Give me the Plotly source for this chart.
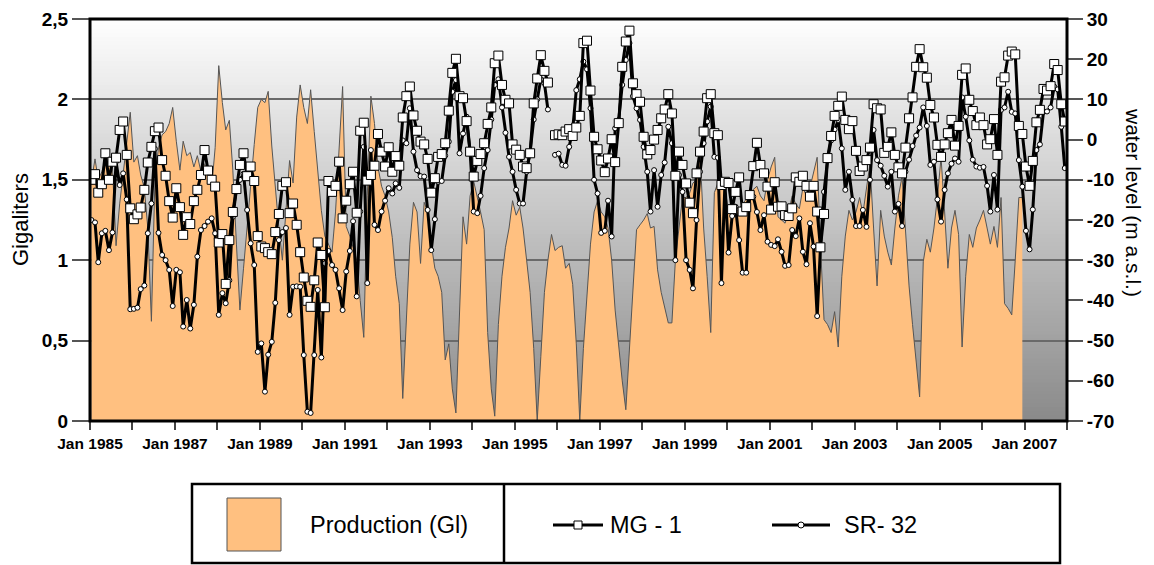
import plotly.graph_objects as go
import pandas as pd

# ---------------- DATA ----------------
start_month = "1985-01-01"

production_gl = [
    1.49, 1.63, 1.5, 1.55, 1.63, 1.6, 1.58, 1.09, 1.35, 1.53, 1.75, 1.92,
    1.61, 1.65, 1.53, 1.45, 1.2, 0.62, 1.5, 1.7, 1.78, 1.8, 1.85, 1.95,
    1.74, 1.56, 1.74, 1.65, 1.67, 1.58, 1.65, 1.55, 1.6, 1.52, 1.45, 1.7,
    2.21, 1.98, 1.81, 1.87, 1.56, 1.1, 0.69, 0.95, 1.21, 1.5, 1.72, 1.95,
    2.0, 1.98, 2.05, 1.71, 1.44, 1.2, 1.0, 1.3, 1.62, 1.48, 1.89, 2.09,
    1.95, 1.85, 2.06, 1.8, 1.55, 1.31, 1.15, 1.1, 1.05, 1.3, 1.7, 2.08,
    1.21, 1.15, 1.08, 1.0, 0.75, 0.52, 1.4, 2.02, 1.85, 1.58, 1.46, 1.4,
    1.3, 1.14, 0.9, 0.73, 0.14, 0.6, 1.1, 1.36, 1.3, 0.98, 1.36, 1.3,
    1.1, 0.95, 0.9, 0.8, 0.38, 0.48, 0.2, 0.05, 0.7, 1.27, 1.1, 1.4,
    1.49, 1.4, 1.3, 1.19, 0.55, 0.2, 0.03, 0.6, 0.9, 1.08, 1.2, 1.37,
    1.28, 1.33, 1.2, 1.0, 0.8, 0.45, 0.0, 0.4, 0.8, 1.0, 1.16, 1.06,
    1.08, 1.09, 0.95, 0.98, 0.85, 0.48, 0.0, 0.45, 0.8, 1.1, 1.3, 1.37,
    1.3, 1.27, 1.2, 1.0, 0.69, 0.45, 0.25, 0.07, 0.45, 0.85, 1.19, 1.22,
    1.25, 1.29, 1.2, 1.21, 0.94, 0.8, 0.7, 0.61, 0.61, 1.0, 1.2, 1.39,
    1.39, 1.42, 1.48, 1.5, 1.67, 1.2, 0.9, 0.55, 1.42, 1.48, 1.5, 1.45,
    1.3, 1.32, 1.3, 1.32, 1.35, 1.38, 1.42, 1.44, 1.46, 1.4, 1.37, 1.5,
    1.58, 1.64, 1.27, 1.25, 1.23, 1.3, 1.4, 1.35, 1.32, 1.45, 1.4, 1.45,
    1.55, 1.64, 1.1, 0.63, 0.6, 0.55, 0.68, 0.46, 0.9, 1.15, 1.31, 1.25,
    1.3, 1.39, 1.29, 1.45, 1.6, 1.2, 0.84, 1.31, 1.15, 1.05, 0.97, 1.2,
    1.4, 1.52, 1.2, 0.84, 0.6, 0.35, 0.15, 0.99, 1.13, 1.05, 1.2, 1.39,
    1.64, 1.3, 0.95, 1.2, 1.31, 1.16, 0.46, 0.9, 1.16, 1.08, 1.2, 1.25,
    1.31, 1.2, 1.1, 1.21, 1.08, 1.39, 0.73, 0.7, 0.66, 1.0, 1.39, 1.39,
]

mg1_level = [
    -10, -8.6, -13.2, -11.1, -3.4, -10.0, -5.5, -4.5, 2.4, 4.5, -3.8, -17.1,
    -19.8, -18.6, -16.9, -12.5, -5.7, -1.8, 2.1, 3.0, -5.1, -9.0, -15.3, -19.4,
    -12.1, -16.8, -23.7, -19.3, -21.0, -15.3, -12.5, -8.8, -2.6, -7.7, -10, -11.7,
    -25.6, -23.5, -35.9, -25, -18, -12.3, -6.3, -3.4, -9.1, -6.7, -10.3, -24,
    -26.6, -27, -28, -28.5, -23, -18.5, -11.5, -10.6, -18.3, -15.9, -21.2, -28,
    -34.3, -40.1, -41.6, -35, -25.6, -28.7, -41.7, -10.3, -13, -11.5, -5.5, -19.6,
    -15.2, -11.1, -8, -18.2, 2.2, 4.2, -10.2, -8.8, -6.5, 1.4, -3, -6.7,
    -1.9, -8, -4.1, -6.5, 5.5, 10.8, 13.2, 6, 2.2, -0.5, -1.2, -4.8,
    -13.2, -9.6, -4.3, -3.6, -0.9, 7.2, 16.6, 20.1, 10.8, 10.3, 4.6, -3,
    -9.2, -5.3, -3.6, -0.9, 3.9, 8.0, 19.0, 20.9, 13.6, 9.9, 9.0, -1.2,
    -2.5, -3.8, -6.7, -7.1, -3.4, 9.0, 15.2, 21.0, 17.1, 14.2, None, 1.1,
    1.3, 1.1, 2, 2.6, 0.9, 3, 5.9, 24, 24.6, 12.2, 0.7, -2.4,
    -5.2, -8.1, -4.7, 0.1, -5.6, 4.1, 18.1, 24.4, 27.1, 14, 11.3, 9.4,
    0.7, -3.7, -2.6, 0, 2.4, 5.3, 7.5, 11.3, 6.5, -9, -3, -6.3,
    -10.9, -15.7, -18.3, -8.4, -3, 2, 10.3, 11.3, 1.6, 1.1, -11.3, -10.5,
    -10.8, -17.3, -13, -9.4, -17.9, -16.8, -13.8, -6.6, -0.8, -6.3, -8.4, -11.7,
    -17.4, -10.6, -16.7, -16.6, -18.8, -19, -17.1, -9.4, -10.5, -9, -11.5, -14.2,
    -11.5, -17.9, -26.8, -18.5, -4.6, 0.9, 5.9, 8.4, 10.7, 4.9, 2.6, 4.6,
    -2.8, -7.8, -6.7, -5.1, -2, 8.8, 7.8, 7.5, -3.3, -1.8, 1.8, -3.8,
    -6.9, -8.4, -2, 5.3, 10.5, 18.1, 22.5, 18.0, 15.4, 8.6, 5.5, -1.3,
    -4.3, -1.2, 1.6, 4.9, -1.5, 3.4, 16.1, 17.7, 9.9, 7.1, 3.6, 5.5,
    3.6, -1.2, 0.1, 5.1, -3.8, 14.4, 15.5, 20.9, 21.9, 21.2, 3.4, 1.4,
    -6.7, -11.5, -5.3, 4.3, 7.4, 12.6, 12.2, 13.3, 18.8, 17.3, 8.8, 4.5,
]

sr32_level = [
    -20, -20.6, -30.5, -23.3, -22.7, -27.5, -23.1, -5.5, -11.3, -8.4, -14.9, -42.2,
    -42.1, -41.8, -37.2, -36.3, -23.3, -15.9, -2.3, -23.2, -28.7, -30, -32.4, -41.4,
    -32.4, -33, -46.5, -39.9, -47, -41.1, -29.1, -22.5, -21.5, -20.4, -19.6, -23.3,
    -43.6, -38.2, -40.7, -35, -19.2, -12.5, -10, -8.5, -17.5, -25.8, -31.2, -52.8,
    -50.7, -62.7, -53.5, -50.3, -40.6, -25, -23, -22, -43.6, -36.6, -36.5, -36.6,
    -53.6, -67.7, -68, -53.6, -37.4, -54.2, -30.8, -27.7, -31.2, -32.4, -37, -42.4,
    -32.8, -27.7, -20.3, -39, -17.9, -1.8, -35.7, -2.6, -21.2, -22.5, -17.9, -15.2,
    -12.1, -13.4, -10.9, -12, -0.2, -0.9, 7.8, -3, -7.6, -9.1, -9.2, -17.5,
    -27.5, -19.8, -10.5, -10.3, -4, -0.5, 11.9, 14.8, -3.4, 1.5, 5.7, -3,
    -17.9, -18.3, -14, -7.1, -2.6, 5, 13.6, 15, 8, 1.7, -4.3, -8,
    -12.5, -15.9, -15.9, -8, -3, 5, 10, 15, 14, 7.5, None, -3.8,
    -3.5, -6.3, -6.5, -1.8, 2.5, 12.3, 15, 19.4, 17.5, 7.8, -10, -13.4,
    -23.2, -22.7, -15.2, -24.1, 2.8, 4.9, 13.6, 19.8, 24, 10.8, 7.8, 4.9,
    -1.8, -8, -17.9, -7.6, -16.7, -8.8, -5.7, 3.2, -0.9, -30, -8.8, -13,
    -30, -32.4, -37, -20, -8, -0.9, 4.5, 8.2, -4.3, -4.5, -35.7, -10.9,
    -28.1, -19, -16.7, -25, -33.1, -33.1, -13.8, -14.2, -18, -22.5, -18.8, -25.4,
    -26.2, -26.5, -24.8, -27.9, -31.4, -31.2, -22.5, -24, -19.6, -27.9, -31, -20.8,
    -26.6, -43.9, -27, -13, -5.1, -0.2, 2.5, 4.9, -2.2, -12.5, -8, -15,
    -21.5, -21.5, -17.5, -21.7, -10, 2.4, -5.1, -6.5, -9, -11.7, -8, -17.9,
    -16, -21.5, -8, -5, -1.6, 1, 3, 8, 3.4, -6.3, -5.5, -14.9,
    -20.4, -12.5, -8.4, -6, -4.7, -5.5, 10.5, 5.7, -0.2, -5, -6.7, -7,
    -6.8, -11.5, -17.9, -8.8, -17.4, 7.4, 8, 11.9, 6.9, 6.5, -5.1, -11.7,
    -22.7, -27.3, -17.4, -2.6, -1.2, 6.9, 7, 8, 13.2, 12.5, 3.2, -7.1,
]

x_tick_years = list(range(1985, 2009))
x_tick_labels = ["Jan %d" % y if (y - 1985) % 2 == 0 and y < 2008 else "" for y in x_tick_years]
left_ticks = [0, 0.5, 1, 1.5, 2, 2.5]
left_tick_labels = ["0", "0,5", "1", "1,5", "2", "2,5"]
right_ticks = [-70, -60, -50, -40, -30, -20, -10, 0, 10, 20, 30]
right_tick_labels = ["-70", "-60", "-50", "-40", "-30", "-20", "-10", "0", "10", "20", "30"]

# ---------------- FIGURE ----------------
months = pd.date_range(start_month, periods=len(mg1_level), freq="MS") + pd.Timedelta(days=12)
prod_dates = months[:len(production_gl)]

FONT = "Liberation Sans, Arial, sans-serif"
ORANGE = "#FFC080"

fig = go.Figure()

fig.add_trace(go.Scatter(
    x=prod_dates, y=production_gl, mode="lines", fill="tozeroy",
    fillcolor=ORANGE, line=dict(color="#555555", width=1),
    name="Production (Gl)", yaxis="y", hoverinfo="skip",
))
fig.add_trace(go.Scatter(
    x=months, y=sr32_level, mode="lines+markers", name="SR- 32", yaxis="y2",
    line=dict(color="black", width=3),
    marker=dict(symbol="circle", size=5, color="white", line=dict(color="black", width=1)),
))
fig.add_trace(go.Scatter(
    x=months, y=mg1_level, mode="lines+markers", name="MG - 1", yaxis="y2",
    line=dict(color="black", width=3),
    marker=dict(symbol="square", size=9, color="white", line=dict(color="black", width=1)),
))

shapes = []
# background gradient (overlapping strips to avoid seams)
N = 100
for i in range(N):
    t = i / (N - 1)
    g = int(round(138 + (253 - 138) * t))
    shapes.append(dict(type="rect", xref="x domain", yref="y domain",
                       x0=0, x1=1, y0=max(0, (i - 0.5) / N), y1=min(1, (i + 1.5) / N),
                       fillcolor="rgb(%d,%d,%d)" % (g, g, g), line=dict(width=0),
                       layer="below"))
# plot frame
shapes.append(dict(type="rect", xref="x domain", yref="y domain", x0=0, x1=1, y0=0, y1=1,
                   line=dict(color="black", width=3), layer="above"))


def px2x(px):
    return (px - 90) / 977.0


def py2y(py):
    return (421 - py) / 402.0


# legend box
shapes.append(dict(type="rect", xref="paper", yref="paper",
                   x0=px2x(192), x1=px2x(1060), y0=py2y(563), y1=py2y(484),
                   line=dict(color="black", width=2.5), fillcolor="white"))
shapes.append(dict(type="line", xref="paper", yref="paper",
                   x0=px2x(504), x1=px2x(504), y0=py2y(563), y1=py2y(484),
                   line=dict(color="black", width=2.5)))
shapes.append(dict(type="rect", xref="paper", yref="paper",
                   x0=px2x(227), x1=px2x(281), y0=py2y(551), y1=py2y(498),
                   fillcolor=ORANGE, line=dict(color="#555555", width=1)))
# MG-1 sample
shapes.append(dict(type="line", xref="paper", yref="paper",
                   x0=px2x(553), x1=px2x(603), y0=py2y(525), y1=py2y(525),
                   line=dict(color="black", width=3)))
shapes.append(dict(type="rect", xref="paper", yref="paper",
                   x0=px2x(574), x1=px2x(582), y0=py2y(529), y1=py2y(521),
                   fillcolor="white", line=dict(color="black", width=1)))
# SR-32 sample
shapes.append(dict(type="line", xref="paper", yref="paper",
                   x0=px2x(772), x1=px2x(830), y0=py2y(525), y1=py2y(525),
                   line=dict(color="black", width=3)))
shapes.append(dict(type="circle", xref="paper", yref="paper",
                   x0=px2x(798), x1=px2x(804), y0=py2y(528), y1=py2y(522),
                   fillcolor="white", line=dict(color="black", width=1)))

annotations = [
    dict(text="Gigaliters", xref="paper", yref="paper", x=px2x(20), y=py2y(220),
         textangle=-90, showarrow=False, font=dict(family=FONT, size=22, color="black"),
         xanchor="center", yanchor="middle"),
    dict(text="water level (m a.s.l.)", xref="paper", yref="paper", x=px2x(1134), y=py2y(202),
         textangle=90, showarrow=False, font=dict(family=FONT, size=21, color="black"),
         xanchor="center", yanchor="middle"),
    dict(text="Production (Gl)", xref="paper", yref="paper", x=px2x(308), y=py2y(525),
         showarrow=False, font=dict(family=FONT, size=23.5, color="black"),
         xanchor="left", yanchor="middle"),
    dict(text="MG - 1", xref="paper", yref="paper", x=px2x(608), y=py2y(525),
         showarrow=False, font=dict(family=FONT, size=23.5, color="black"),
         xanchor="left", yanchor="middle"),
    dict(text="SR- 32", xref="paper", yref="paper", x=px2x(842), y=py2y(525),
         showarrow=False, font=dict(family=FONT, size=23.5, color="black"),
         xanchor="left", yanchor="middle"),
]

# the page body has an 8px default margin, so the figure is drawn 8px smaller
# and its margins are reduced by the same offset
fig.update_layout(
    width=1146, height=557,
    margin=dict(l=82, r=87, t=11, b=144, autoexpand=False),
    paper_bgcolor="white", plot_bgcolor="white",
    showlegend=False,
    font=dict(family=FONT, color="black"),
    shapes=shapes, annotations=annotations,
    xaxis=dict(
        type="date", range=["1985-01-01", "2008-01-01"], automargin=False,
        tickvals=["%d-01-01" % y for y in x_tick_years], ticktext=x_tick_labels,
        ticks="outside", ticklen=8, tickwidth=1.5, tickcolor="#444444",
        tickfont=dict(family=FONT, size=15.5, color="black", weight="bold"),
        showgrid=False, zeroline=False, showline=False,
    ),
    yaxis=dict(
        range=[0, 2.5], tickvals=left_ticks, ticktext=left_tick_labels, automargin=False,
        ticks="outside", ticklen=17, tickwidth=2, tickcolor="#555555",
        tickfont=dict(family=FONT, size=19, color="black", weight="bold"),
        showgrid=True, gridcolor="#6a6a6a", gridwidth=2,
        zeroline=False, showline=False,
    ),
    yaxis2=dict(
        range=[-70, 30], overlaying="y", side="right", automargin=False,
        tickvals=right_ticks, ticktext=right_tick_labels,
        ticks="outside", ticklen=15, tickwidth=2, tickcolor="#555555",
        tickfont=dict(family=FONT, size=19, color="black", weight="bold"),
        showgrid=False, zeroline=False, showline=False,
    ),
)

fig.write_html("out.html")
